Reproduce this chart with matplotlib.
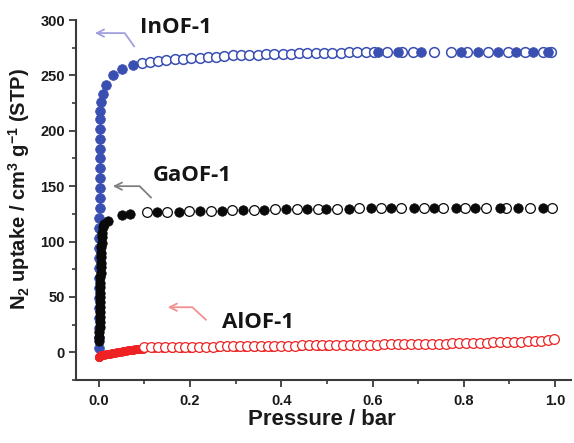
import matplotlib
matplotlib.use("Agg")
import matplotlib.pyplot as plt
from matplotlib.ticker import MultipleLocator

plt.rcParams['font.family'] = ['Liberation Sans', 'DejaVu Sans']
plt.rcParams['mathtext.default'] = 'regular'

# ---------------- data ----------------
# InOF-1 (blue): adsorption (filled) and desorption (open)
in_ads_x = [0.0002, 0.0003, 0.0004, 0.0005, 0.0006, 0.0007, 0.0008, 0.0009, 0.0010,
            0.0011, 0.0012, 0.0013, 0.0014, 0.0015, 0.0016, 0.0017, 0.0018, 0.0019,
            0.0020, 0.0021, 0.0022, 0.0023, 0.0024, 0.0025, 0.0030, 0.005, 0.009,
            0.015, 0.031, 0.050, 0.074,
            0.611, 0.655, 0.707, 0.793, 0.832, 0.876, 0.915, 0.952, 0.985]
in_ads_y = [4, 13, 22, 31, 40, 49, 58, 67, 76,
            85, 94, 103, 112, 121, 130, 139, 148, 157,
            166, 175, 184, 193, 202, 211, 218, 226, 233,
            241, 250, 256, 259,
            271, 271, 271, 271, 271, 271, 271, 271, 271]
in_des_x = [0.094, 0.112, 0.130, 0.148, 0.166, 0.185, 0.203, 0.221, 0.239, 0.257,
            0.275, 0.294, 0.312, 0.330, 0.348, 0.366, 0.385, 0.403, 0.421, 0.439,
            0.457, 0.475, 0.494, 0.512, 0.530, 0.548, 0.566, 0.585, 0.603,
            0.631, 0.664, 0.688, 0.734, 0.773, 0.806, 0.854, 0.897, 0.934, 0.974, 0.991]
in_des_y = [261, 262, 263, 264, 264.5, 265, 265.5, 266, 266.5, 267,
            267.5, 268, 268, 268.5, 268.5, 269, 269, 269.5, 269.5, 270,
            270, 270, 270.5, 270.5, 270.5, 271, 271, 271, 271,
            271, 271, 271, 271, 271, 271, 271, 271, 271, 271, 271]

# GaOF-1 (black)
ga_ads_x = [0.0010, 0.0012, 0.0014, 0.0016, 0.0018, 0.0020, 0.0022, 0.0024, 0.0026,
            0.0028, 0.0030, 0.0032, 0.0034, 0.0036, 0.0038, 0.0040, 0.0043, 0.0046,
            0.0050, 0.0055, 0.0060, 0.0066, 0.0073, 0.0082,
            0.011, 0.020, 0.050, 0.068,
            0.128, 0.175, 0.222, 0.269, 0.316, 0.363, 0.410, 0.456, 0.498, 0.548,
            0.596, 0.640, 0.690, 0.734, 0.782, 0.825, 0.880, 0.919, 0.974]
ga_ads_y = [10, 14, 18, 23, 27, 32, 36, 41, 45,
            50, 54, 59, 63, 68, 72, 77, 81, 86,
            90, 95, 99, 104, 108, 113,
            116, 119, 124, 125,
            126.5, 127, 127.5, 128, 128.3, 128.6, 129, 129.3, 129.5, 129.7,
            129.9, 130, 130.1, 130.2, 130.3, 130.4, 130.5, 130.5, 130.6]
ga_des_x = [0.105, 0.150, 0.197, 0.245, 0.292, 0.340, 0.387, 0.434, 0.480, 0.522,
            0.570, 0.618, 0.662, 0.712, 0.755, 0.803, 0.849, 0.893, 0.945, 0.993]
ga_des_y = [126.5, 127, 127.5, 128, 128.3, 128.6, 129, 129.3, 129.5, 129.7,
            129.9, 130, 130.1, 130.2, 130.3, 130.4, 130.5, 130.5, 130.6, 130.7]

# AlOF-1 (red)
al_ads_x = [0.000, 0.001, 0.002, 0.004, 0.008, 0.012, 0.016, 0.020, 0.024, 0.028,
            0.032, 0.036, 0.040, 0.044, 0.048, 0.052, 0.056, 0.060, 0.064, 0.068,
            0.072, 0.076, 0.080, 0.084, 0.088, 0.092, 0.096,
            0.12, 0.14, 0.16, 0.18, 0.20, 0.22, 0.24, 0.26, 0.28, 0.30,
            0.32, 0.34, 0.36, 0.38, 0.40, 0.42, 0.44, 0.46, 0.48, 0.50]
al_ads_y = [-4.5, -4, -3, -2.6, -2.3, -2.0, -1.7, -1.4, -1.1, -0.8,
            -0.5, -0.2, 0.1, 0.4, 0.7, 1.0, 1.3, 1.5, 1.8, 2.0,
            2.2, 2.4, 2.6, 2.8, 3.0, 3.2, 3.4,
            3.6, 3.8, 4.0, 4.1, 4.3, 4.4, 4.5, 4.6, 4.7, 4.8,
            4.9, 5.0, 5.1, 5.2, 5.3, 5.4, 5.5, 5.6, 5.7, 5.8]
al_des_x = [0.100, 0.115, 0.130, 0.145, 0.160, 0.175, 0.190, 0.205, 0.220, 0.235,
            0.250, 0.265, 0.280, 0.295, 0.310, 0.325, 0.340, 0.355, 0.370, 0.385,
            0.400, 0.415, 0.430, 0.445, 0.460, 0.475, 0.490, 0.505, 0.520, 0.535,
            0.550, 0.565, 0.580, 0.595, 0.610, 0.625, 0.640, 0.655, 0.670, 0.685,
            0.700, 0.715, 0.730, 0.745, 0.760, 0.775, 0.790, 0.805, 0.820, 0.835,
            0.850, 0.865, 0.880, 0.895, 0.910, 0.925, 0.940, 0.955, 0.970, 0.985, 0.998]
al_des_y = [4.5, 4.6, 4.6, 4.7, 4.8, 4.9, 4.9, 5.0, 5.1, 5.2,
            5.2, 5.3, 5.4, 5.5, 5.5, 5.6, 5.7, 5.8, 5.8, 5.9,
            6.0, 6.1, 6.1, 6.2, 6.3, 6.4, 6.4, 6.5, 6.6, 6.7,
            6.7, 6.8, 6.9, 7.0, 7.0, 7.1, 7.2, 7.3, 7.3, 7.4,
            7.5, 7.6, 7.7, 7.8, 7.9, 8.0, 8.2, 8.3, 8.4, 8.6,
            8.7, 8.9, 9.0, 9.2, 9.4, 9.6, 9.9, 10.2, 10.6, 11.2, 12.3]

labels = ["InOF-1", "GaOF-1", "AlOF-1"]
x_ticks = [0.0, 0.2, 0.4, 0.6, 0.8, 1.0]
x_tick_labels = ["0.0", "0.2", "0.4", "0.6", "0.8", "1.0"]
y_ticks = [0, 50, 100, 150, 200, 250, 300]

BLUE = '#3a4fb2'
BLACK = '#0a0a0a'
RED = '#ee2222'

# ---------------- figure ----------------
fig = plt.figure(figsize=(5.74, 4.43), dpi=100)
ax = fig.add_axes([0.1324, 0.1422, 0.8624, 0.8126])

# InOF-1
ax.plot(in_des_x, in_des_y, ls='none', marker='o', ms=7.0, mfc='white', mec=BLUE, mew=1.1)
ax.plot(in_ads_x, in_ads_y, ls='none', marker='o', ms=7.0, mfc=BLUE, mec=BLUE, mew=0.5)
# GaOF-1
ax.plot(ga_des_x, ga_des_y, ls='none', marker='o', ms=7.0, mfc='white', mec=BLACK, mew=0.9)
ax.plot(ga_ads_x, ga_ads_y, ls='none', marker='o', ms=6.8, mfc=BLACK, mec=BLACK, mew=0.5)
# AlOF-1
ax.plot(al_ads_x, al_ads_y, ls='none', marker='o', ms=6.0, mfc=RED, mec=RED, mew=0.5)
ax.plot(al_des_x, al_des_y, ls='none', marker='o', ms=7.0, mfc='white', mec=RED, mew=0.9)

ax.set_xlim(-0.05, 1.035)
ax.set_ylim(-25, 300)
ax.set_xticks(x_ticks)
ax.set_xticklabels(x_tick_labels)
ax.set_yticks(y_ticks)
ax.xaxis.set_minor_locator(MultipleLocator(0.1))
ax.yaxis.set_minor_locator(MultipleLocator(25))

for s in ['top', 'right']:
    ax.spines[s].set_visible(False)
for s in ['left', 'bottom']:
    ax.spines[s].set_linewidth(1.5)
    ax.spines[s].set_color('#3a3a3a')

ax.tick_params(which='major', direction='out', length=5, width=1.3, color='#3a3a3a',
               labelsize=10.5, pad=3)
ax.tick_params(which='minor', direction='out', length=3, width=1.2, color='#3a3a3a')
ax.tick_params(axis='x', which='major', pad=5)
for lab in ax.get_xticklabels() + ax.get_yticklabels():
    lab.set_fontweight('bold')
    lab.set_color('#1a1a1a')

ax.set_xlabel('Pressure / bar', fontsize=16, fontweight='bold', color='#1a1a1a')
ax.xaxis.set_label_coords(0.497, -0.08)
ax.set_ylabel(r'N$_2$ uptake / cm$^3$ g$^{-1}$ (STP)', fontsize=14.5,
              fontweight='bold', color='#1a1a1a')
ax.yaxis.set_label_coords(-0.088, 0.53)

# annotations
ann_font = ['Open Sans', 'DejaVu Sans']
ax.text(0.0895, 293.7, labels[0], fontsize=16, fontweight='bold', family=ann_font,
        va='center', ha='left', color='#151515')
ax.text(0.118, 160, labels[1], fontsize=16, fontweight='bold', family=ann_font,
        va='center', ha='left', color='#151515')
ax.text(0.271, 27, labels[2], fontsize=16, fontweight='bold', family=ann_font,
        va='center', ha='left', color='#151515')

arrows = [
    ((0.0786, 275.6), (0.0568, 288.2), (-0.0087, 288.2), '#a0a0e0'),
    ((0.1157, 139.2), (0.0895, 150.0), (0.0306, 150.0), '#808080'),
    ((0.236, 28.9), (0.205, 40.7), (0.151, 40.7), '#f39090'),
]
for start, corner, tip, col in arrows:
    ax.plot([start[0], corner[0]], [start[1], corner[1]], color=col, lw=1.3,
            solid_capstyle='butt')
    ax.annotate('', xy=tip, xytext=corner,
                arrowprops=dict(arrowstyle='->', color=col, lw=1.3,
                                shrinkA=0, shrinkB=0, mutation_scale=13))

fig.savefig('out.png', dpi=100)
